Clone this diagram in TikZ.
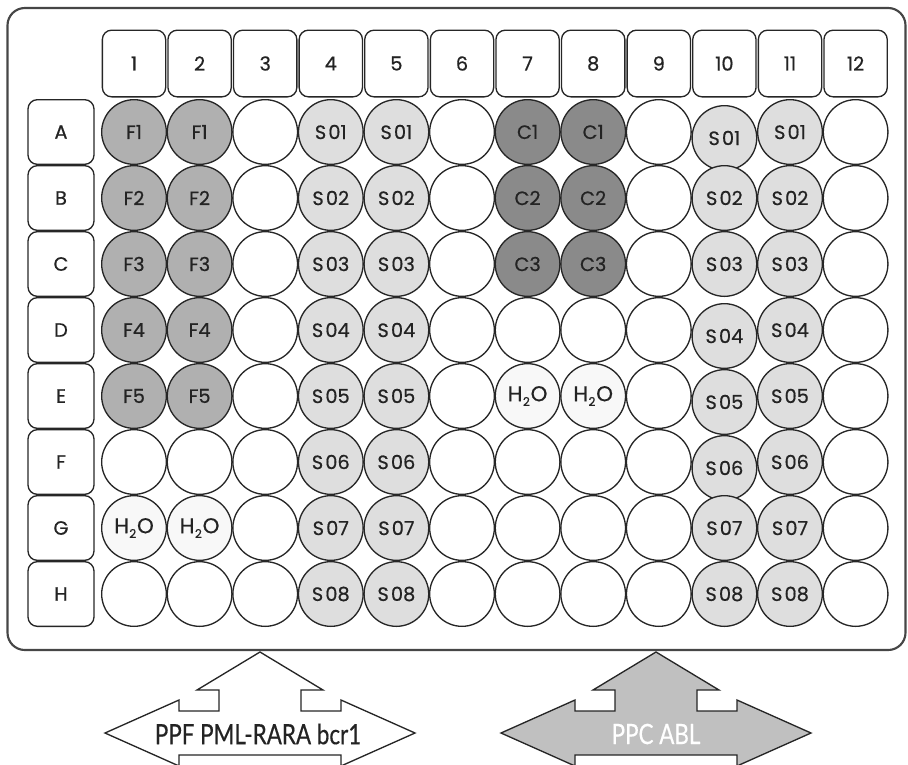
\documentclass[tikz,border=0pt]{standalone}
\usepackage{fontspec}
\setmainfont{Poppins}[FakeBold=0.6]
\newfontfamily\arrowfont{Lato}[FakeBold=0.5]
\definecolor{plateedge}{RGB}{70,70,70}
\definecolor{fwellgray}{RGB}{176,176,176}
\definecolor{cwellgray}{RGB}{138,138,138}
\definecolor{swellgray}{RGB}{222,222,222}
\definecolor{hwellgray}{RGB}{248,248,248}
\definecolor{arrowgray}{RGB}{192,192,192}
\definecolor{labelink}{RGB}{35,35,35}
\newcommand{\smp}[1]{S\kern1.6pt#1}
\newcommand{\water}{{\fontsize{16}{16}\selectfont H\kern0.3pt\raisebox{-0.4ex}{\fontsize{9}{9}\selectfont 2}\kern0.6pt O}}
\tikzset{
  rim/.style={draw=plateedge,line width=1.6pt,rounded corners=13pt},
  tag/.style={draw=black!85,line width=1pt,rounded corners=7pt,inner sep=0pt,
              text=labelink,font=\fontsize{14.5}{14.5}\selectfont},
  colhead/.style={tag,minimum width=47.5pt,minimum height=50pt},
  rowhead/.style={tag,minimum width=49.5pt,minimum height=48.5pt},
  ewell/.style={circle,draw=black!85,line width=1pt,minimum size=48.5pt,inner sep=0pt,
                fill=white,text=labelink,font=\fontsize{14.5}{14.5}\selectfont},
  fwell/.style={ewell,fill=fwellgray},
  cwell/.style={ewell,fill=cwellgray},
  swell/.style={ewell,fill=swellgray},
  swelldown/.style={swell,yshift=-4.5pt},
  hwell/.style={ewell,fill=hwellgray},
  bigarrow/.style={draw=black!85,line width=1pt,line join=miter},
  primerlab/.style={font=\arrowfont\fontsize{21}{21}\selectfont},
}

\begin{document}
\begin{tikzpicture}[x=0.75pt,y=-0.75pt]
  \useasboundingbox (0,0) rectangle (908,765);
  \clip (0,0) rectangle (908,765);

  % plate
  \draw[rim] (7.5,8) rectangle (905.5,650);

  \foreach \col in {1,...,12}
    \node[colhead] (head\col) at ({134+65.6*(\col-1)},63.5) {\col};
  \foreach \r [count=\ri from 0] in {A,...,H}
    \node[rowhead] (row\r) at (61,{132+66*\ri}) {\r};

  % wells, row by row
  \foreach \r/\ri/\spec in {
    A/0/{fwell/F1,fwell/F1,ewell/{},swell/\smp{01},swell/\smp{01},ewell/{},cwell/C1,cwell/C1,ewell/{},swelldown/\smp{01},swell/\smp{01},ewell/{}},
    B/1/{fwell/F2,fwell/F2,ewell/{},swell/\smp{02},swell/\smp{02},ewell/{},cwell/C2,cwell/C2,ewell/{},swell/\smp{02},swell/\smp{02},ewell/{}},
    C/2/{fwell/F3,fwell/F3,ewell/{},swell/\smp{03},swell/\smp{03},ewell/{},cwell/C3,cwell/C3,ewell/{},swell/\smp{03},swell/\smp{03},ewell/{}},
    D/3/{fwell/F4,fwell/F4,ewell/{},swell/\smp{04},swell/\smp{04},ewell/{},ewell/{},ewell/{},ewell/{},swelldown/\smp{04},swell/\smp{04},ewell/{}},
    E/4/{fwell/F5,fwell/F5,ewell/{},swell/\smp{05},swell/\smp{05},ewell/{},hwell/\water,hwell/\water,ewell/{},swelldown/\smp{05},swell/\smp{05},ewell/{}},
    F/5/{ewell/{},ewell/{},ewell/{},swell/\smp{06},swell/\smp{06},ewell/{},ewell/{},ewell/{},ewell/{},swelldown/\smp{06},swell/\smp{06},ewell/{}},
    G/6/{hwell/\water,hwell/\water,ewell/{},swell/\smp{07},swell/\smp{07},ewell/{},ewell/{},ewell/{},ewell/{},swell/\smp{07},swell/\smp{07},ewell/{}},
    H/7/{ewell/{},ewell/{},ewell/{},swell/\smp{08},swell/\smp{08},ewell/{},ewell/{},ewell/{},ewell/{},swell/\smp{08},swell/\smp{08},ewell/{}}}
  {
    \foreach \st/\lab [count=\col] in \spec
      \node[\st] (well\r\col) at ({134+65.6*(\col-1)},{132+66*\ri}) {\lab};
  }

  % primer/probe arrows under the plate
  \foreach \cx/\shade in {260/white,656/arrowgray}
    \draw[bigarrow,fill=\shade] (\cx,652) -- ++(63,38) -- ++(-22,0) -- ++(0,21)
      -- ++(40,0) -- ++(0,-11) -- ++(74,33) -- ++(-74,33) -- ++(0,-11)
      -- ++(-162,0) -- ++(0,11) -- ++(-74,-33) -- ++(74,-33) -- ++(0,11)
      -- ++(40,0) -- ++(0,-21) -- ++(-22,0) -- cycle;
  \node[primerlab,text=labelink] (pmlrara) at (258,734) {\scalebox{0.8}[1]{PPF PML-RARA bcr1}};
  \node[primerlab,text=white] (abl) at (656,734) {\scalebox{0.8}[1]{PPC ABL}};
\end{tikzpicture}
\end{document}
